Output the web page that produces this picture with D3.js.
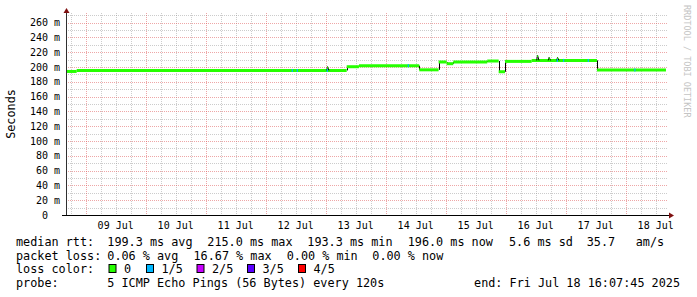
<!DOCTYPE html>
<html>
<head>
	<meta charset="utf-8">
	<title>Smokeping median RTT, last 10 days</title>
	<style>
		body {
			margin: 0;
			background: #fff;
		}
		svg {
			display: block;
			font-family: "DejaVu Sans Mono", monospace;
		}
		.tick-label {
			font-size: 10px;
			fill: #000;
		}
		.legend {
			font-size: 11.8px;
			fill: #000;
			white-space: pre;
		}
		.minor {
			stroke: rgba(143, 143, 143, 0.45);
			stroke-dasharray: 1, 1;
			shape-rendering: crispEdges;
		}
		.major {
			stroke: rgba(222, 80, 80, 0.5);
			stroke-dasharray: 1, 1;
			shape-rendering: crispEdges;
		}
		.watermark {
			font-size: 8.5px;
			fill: #c4c4c4;
		}
	</style>
</head>
<body>
	<div id="graph"></div>

	<script src="https://cdnjs.cloudflare.com/ajax/libs/d3/7.8.5/d3.min.js"></script>
	<script type="text/javascript">

		// median rtt as steps: value holds from its time until the next one
		var stepTimes = ["2025-07-08 16:07", "2025-07-08 20:24", "2025-07-13 08:24", "2025-07-13 13:19",
			"2025-07-14 13:26", "2025-07-14 21:10", "2025-07-15 00:24", "2025-07-15 03:02",
			"2025-07-15 16:38", "2025-07-15 21:12", "2025-07-15 23:43", "2025-07-16 10:24",
			"2025-07-17 12:31", "2025-07-18 16:07"];
		var stepValues = [194.0, 195.4, 200.4, 201.8, 196.2, 206.8, 204.5, 206.8, 208.1, 193.6, 207.6, 208.9, 195.8, 195.8];

		// short upward spikes of the median
		var spikeTimes = ["2025-07-13 00:24", "2025-07-16 12:24", "2025-07-16 17:02", "2025-07-16 20:24"];
		var spikeValues = [200.5, 216.0, 213.0, 213.0];

		// samples where 1 of 5 pings was lost
		var lossTimes = ["2025-07-12 10:24", "2025-07-12 12:24", "2025-07-13 00:24", "2025-07-14 08:48",
			"2025-07-16 20:24", "2025-07-16 22:55", "2025-07-17 08:48", "2025-07-18 03:26"];

		var yMajor = [0, 20, 40, 60, 80, 100, 120, 140, 160, 180, 200, 220, 240, 260];
		var yMinor = [10, 30, 50, 70, 90, 110, 130, 150, 170, 190, 210, 230, 250, 270];

		var rttLabels = ["199.3 ms avg", "215.0 ms max", "193.3 ms min", "196.0 ms now", "5.6 ms sd", "35.7", "am/s"];
		var lossLabels = ["0.06 % avg", "16.67 % max", "0.00 % min", "0.00 % now"];
		var lossColorLabels = ["0", "1/5", "2/5", "3/5", "4/5"];
		var lossColors = ["#26ff00", "#00b8ff", "#c800ff", "#5a00ff", "#ff0000"];

		var parse = d3.utcParse("%Y-%m-%d %H:%M");
		var start = new Date(Date.UTC(2025, 6, 8, 16, 7, 45));
		var end = new Date(Date.UTC(2025, 6, 18, 16, 7, 45));

		var plot = { left: 66, right: 666, top: 13, bottom: 215 };

		var svg = d3.select("#graph").append("svg")
			.attr("width", 697)
			.attr("height", 297);

		var xScale = d3.scaleUtc().domain([start, end]).range([plot.left, plot.right]);
		var yScale = d3.scaleLinear().domain([0, 273]).range([plot.bottom, plot.top]);

		// grid
		var grid = svg.append("g");

		grid.selectAll(".vminor")
			.data(xScale.ticks(d3.utcHour.every(6)).filter(function(d) { return d.getUTCHours() !== 0; }))
			.enter().append("line")
			.attr("class", "minor")
			.attr("x1", function(d) { return Math.round(xScale(d)) + 0.5; })
			.attr("x2", function(d) { return Math.round(xScale(d)) + 0.5; })
			.attr("y1", plot.top)
			.attr("y2", plot.bottom);

		grid.selectAll(".hminor")
			.data(yMinor)
			.enter().append("line")
			.attr("class", "minor")
			.attr("x1", plot.left)
			.attr("x2", plot.right + 2)
			.attr("y1", function(d) { return Math.round(yScale(d)) + 0.5; })
			.attr("y2", function(d) { return Math.round(yScale(d)) + 0.5; });

		grid.selectAll(".vmajor")
			.data(xScale.ticks(d3.utcDay.every(1)))
			.enter().append("line")
			.attr("class", "major")
			.attr("x1", function(d) { return Math.round(xScale(d)) + 0.5; })
			.attr("x2", function(d) { return Math.round(xScale(d)) + 0.5; })
			.attr("y1", plot.top)
			.attr("y2", plot.bottom);

		grid.selectAll(".hmajor")
			.data(yMajor.slice(1))
			.enter().append("line")
			.attr("class", "major")
			.attr("x1", plot.left)
			.attr("x2", plot.right + 2)
			.attr("y1", function(d) { return Math.round(yScale(d)) + 0.5; })
			.attr("y2", function(d) { return Math.round(yScale(d)) + 0.5; });

		// y tick labels
		svg.append("g").selectAll("text")
			.data(yMajor)
			.enter().append("text")
			.attr("class", "tick-label")
			.attr("text-anchor", "end")
			.attr("x", function(d) { return d === 0 ? 48 : 60; })
			.attr("y", function(d) { return yScale(d); })
			.attr("dy", "0.36em")
			.text(function(d) { return d === 0 ? "0" : d + " m"; });

		// x tick labels at noon of each day
		var dayFormat = d3.utcFormat("%d %b");
		svg.append("g").selectAll("text")
			.data(xScale.ticks(d3.utcDay.every(1)).filter(function(d) { return d3.utcHour.offset(d, 12) < end; }))
			.enter().append("text")
			.attr("class", "tick-label")
			.attr("text-anchor", "middle")
			.attr("x", function(d) { return xScale(d3.utcHour.offset(d, 12)); })
			.attr("y", 229)
			.text(dayFormat);

		// median line
		var steps = stepTimes.map(function(t, i) { return { t: parse(t), v: stepValues[i] }; });
		var line = svg.append("g");

		function valueAt(t) {
			var i = d3.bisector(function(d) { return d.t; }).right(steps, t) - 1;
			return steps[Math.max(0, i)].v;
		}

		line.selectAll(".jump")
			.data(steps.slice(1, -1))
			.enter().append("line")
			.attr("x1", function(d) { return Math.round(xScale(d.t)) + 0.5; })
			.attr("x2", function(d) { return Math.round(xScale(d.t)) + 0.5; })
			.attr("y1", function(d, i) { return yScale(steps[i].v); })
			.attr("y2", function(d) { return yScale(d.v); })
			.attr("stroke", "#000")
			.attr("stroke-width", 1);

		line.selectAll(".level")
			.data(steps.slice(0, -1))
			.enter().append("line")
			.attr("x1", function(d) { return xScale(d.t); })
			.attr("x2", function(d, i) { return xScale(steps[i + 1].t); })
			.attr("y1", function(d) { return yScale(d.v); })
			.attr("y2", function(d) { return yScale(d.v); })
			.attr("stroke", lossColors[0])
			.attr("stroke-width", 3);

		var spikes = spikeTimes.map(function(t, i) { return { t: parse(t), v: spikeValues[i] }; });

		line.selectAll(".spike")
			.data(spikes)
			.enter().append("path")
			.attr("fill", "none")
			.attr("stroke", "#000")
			.attr("stroke-width", 1)
			.attr("d", function(d) {
				var base = valueAt(d.t);
				return d3.line()([
					[xScale(d.t), yScale(base)],
					[xScale(d3.utcMinute.offset(d.t, 20)), yScale(d.v)],
					[xScale(d3.utcMinute.offset(d.t, 55)), yScale(base)]
				]);
			});

		line.selectAll(".spiketop")
			.data(spikes)
			.enter().append("line")
			.attr("x1", function(d) { return xScale(d3.utcMinute.offset(d.t, 10)); })
			.attr("x2", function(d) { return xScale(d3.utcMinute.offset(d.t, 34)); })
			.attr("y1", function(d) { return yScale(d.v) + 1; })
			.attr("y2", function(d) { return yScale(d.v) + 1; })
			.attr("stroke", lossColors[0])
			.attr("stroke-width", 2);

		line.selectAll(".loss")
			.data(lossTimes.map(parse))
			.enter().append("line")
			.attr("x1", function(d) { return xScale(d); })
			.attr("x2", function(d) { return xScale(d3.utcMinute.offset(d, 30)); })
			.attr("y1", function(d) { return yScale(valueAt(d)); })
			.attr("y2", function(d) { return yScale(valueAt(d)); })
			.attr("stroke", lossColors[1])
			.attr("stroke-width", 3);

		// axes
		svg.append("line")
			.attr("x1", plot.left + 0.5).attr("x2", plot.left + 0.5)
			.attr("y1", plot.bottom).attr("y2", 11)
			.attr("stroke", "#303030");

		svg.append("line")
			.attr("x1", 62).attr("x2", 670)
			.attr("y1", plot.bottom + 0.5).attr("y2", plot.bottom + 0.5)
			.attr("stroke", "#000");

		svg.append("path")
			.attr("fill", "#7f1010")
			.attr("d", "M63.5,13L69.5,13L66.5,8Z");

		svg.append("path")
			.attr("fill", "#7f1010")
			.attr("d", "M669,212.5L669,218.5L674,215.5Z");

		// axis title
		svg.append("text")
			.attr("class", "legend")
			.attr("text-anchor", "middle")
			.attr("transform", "translate(15,114) rotate(-90)")
			.text("Seconds");

		// watermark
		svg.append("text")
			.attr("class", "watermark")
			.attr("transform", "translate(684,5) rotate(90)")
			.text("RRDTOOL / TOBI OETIKER");

		// legend
		var legend = svg.append("g").attr("class", "legend");
		var rows = [246, 259.5, 273, 287];

		legend.append("text").attr("x", 16).attr("y", rows[0]).text("median rtt:");
		var rttX = [107.3, 207.3, 307.3, 407.7, 509, 586.7, 635.7];
		legend.selectAll(".rtt")
			.data(rttLabels)
			.enter().append("text")
			.attr("x", function(d, i) { return rttX[i]; })
			.attr("y", rows[0])
			.text(function(d) { return d; });

		legend.append("text").attr("x", 16).attr("y", rows[1]).text("packet loss:");
		var lossX = [107.3, 193.5, 286.7, 372.3];
		legend.selectAll(".pl")
			.data(lossLabels)
			.enter().append("text")
			.attr("x", function(d, i) { return lossX[i]; })
			.attr("y", rows[1])
			.text(function(d) { return d; });

		legend.append("text").attr("x", 16).attr("y", rows[2]).text("loss color:");
		var swatchX = [108.5, 146, 196.5, 247, 298];
		var swatch = legend.selectAll(".swatch")
			.data(lossColorLabels)
			.enter().append("g");
		swatch.append("rect")
			.attr("x", function(d, i) { return swatchX[i] + 0.5; })
			.attr("y", rows[2] - 8.5)
			.attr("width", 7)
			.attr("height", 8)
			.attr("fill", function(d, i) { return lossColors[i]; })
			.attr("stroke", "#000")
			.attr("stroke-width", 1);
		swatch.append("text")
			.attr("x", function(d, i) { return swatchX[i] + 15.5; })
			.attr("y", rows[2])
			.text(function(d) { return d; });

		legend.append("text").attr("x", 16).attr("y", rows[3]).text("probe:");
		legend.append("text").attr("x", 107.3).attr("y", rows[3]).text("5 ICMP Echo Pings (56 Bytes) every 120s");
		legend.append("text").attr("x", 680).attr("y", rows[3]).attr("text-anchor", "end")
			.text("end: Fri Jul 18 16:07:45 2025");
	</script>
</body>
</html>
